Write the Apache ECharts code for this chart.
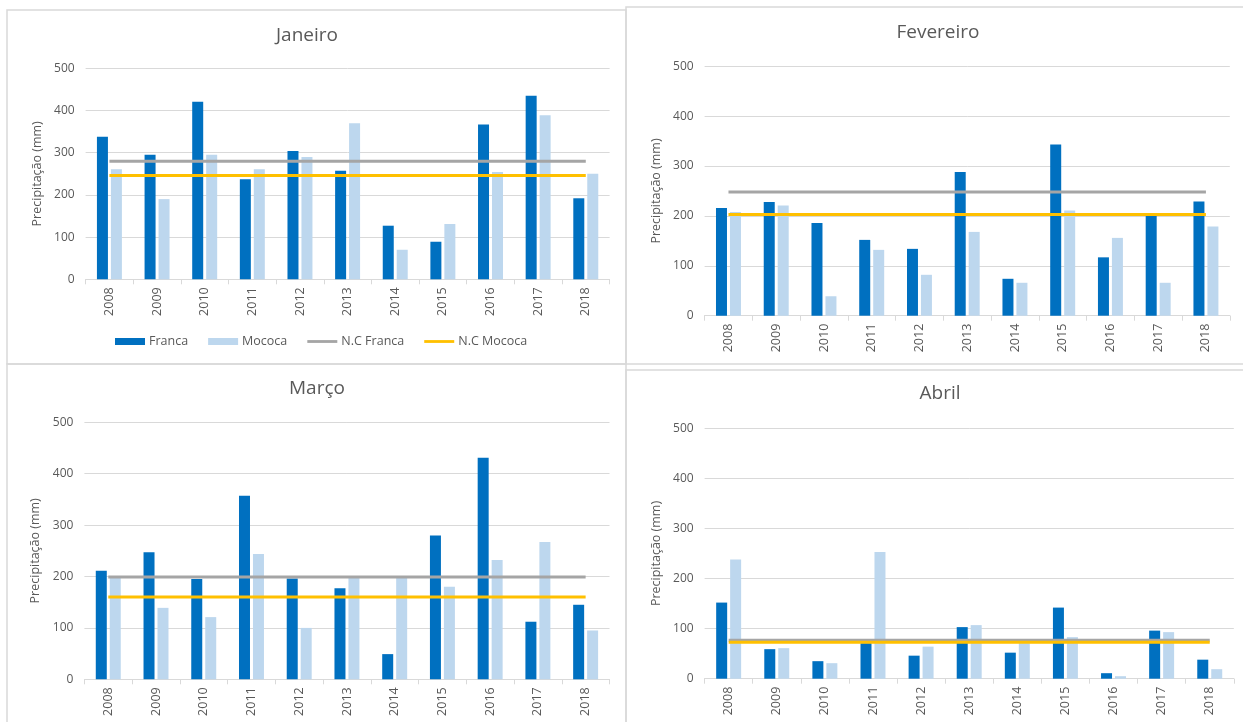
<!DOCTYPE html>
<html>
<head>
<meta charset="utf-8">
<title>Precipitação mensal — Franca e Mococa</title>
<script src="https://cdn.jsdelivr.net/npm/echarts@6/dist/echarts.min.js"></script>
<style>
  html, body { margin: 0; padding: 0; background: #ffffff; }
  #chart { width: 1243px; height: 722px; }
</style>
</head>
<body>
<div id="chart"></div>
<script>
// Years on the category axis
const years = ['2008', '2009', '2010', '2011', '2012', '2013', '2014', '2015', '2016', '2017', '2018'];
const yTicks = [0, 100, 200, 300, 400, 500];

// Monthly rainfall (mm) per year
const francaJan = [338, 295, 421, 237, 304, 257, 127, 89, 367, 435, 192];
const mococaJan = [261, 190, 295, 261, 290, 370, 70, 131, 254, 389, 250];
const francaFev = [216, 228, 186, 152, 134, 288, 74, 343, 117, 202, 229];
const mococaFev = [208, 221, 39, 132, 82, 168, 66, 211, 156, 66, 179];
const francaMar = [211, 247, 195, 357, 196, 177, 49, 280, 431, 112, 145];
const mococaMar = [198, 139, 121, 244, 100, 197, 197, 180, 232, 267, 95];
const francaAbr = [152, 59, 35, 71, 46, 103, 52, 142, 11, 96, 38];
const mococaAbr = [238, 61, 31, 253, 64, 107, 71, 83, 5, 93, 19];

// Climatological normals (mm) for each month
const normalFranca = { jan: 280, fev: 248, mar: 199, abr: 77 };
const normalMococa = { jan: 246, fev: 203, mar: 160, abr: 73 };

const FONT = 'Open Sans';
const TEXT = '#595959';
const GRID = '#d9d9d9';
const C_FRANCA = '#0070C0';
const C_MOCOCA = '#BDD7EE';
const C_NC_FRANCA = '#A5A5A5';
const C_NC_MOCOCA = '#FFC000';

// Panel definitions: title, data and plot box
const panels = [
  { title: 'Janeiro',   franca: francaJan, mococa: mococaJan, nf: normalFranca.jan, nm: normalMococa.jan,
    grid: { left: 85.6, top: 68.3, width: 524, height: 211 }, tx: 307, ty: 26 },
  { title: 'Fevereiro', franca: francaFev, mococa: mococaFev, nf: normalFranca.fev, nm: normalMococa.fev,
    grid: { left: 704.6, top: 66.3, width: 525.2, height: 249.4 }, tx: 938, ty: 23 },
  { title: 'Março',     franca: francaMar, mococa: mococaMar, nf: normalFranca.mar, nm: normalMococa.mar,
    grid: { left: 84.4, top: 422.3, width: 525.1, height: 257 }, tx: 317, ty: 379 },
  { title: 'Abril',     franca: francaAbr, mococa: mococaAbr, nf: normalFranca.abr, nm: normalMococa.abr,
    grid: { left: 704.6, top: 428.3, width: 529.2, height: 250.4 }, tx: 940, ty: 384 }
];

const grids = [], xAxes = [], yAxes = [], titles = [], series = [];

panels.forEach((p, i) => {
  grids.push(Object.assign({ containLabel: false }, p.grid));
  titles.push({
    text: p.title, left: p.tx, top: p.ty, textAlign: 'center', padding: 0,
    textStyle: { fontFamily: FONT, fontSize: 19, fontWeight: 'normal', color: TEXT }
  });
  xAxes.push({
    type: 'category', gridIndex: i, data: years,
    axisLine: { lineStyle: { color: GRID, width: 1 } },
    axisTick: { show: true, length: 5, lineStyle: { color: GRID } },
    axisLabel: { rotate: 90, margin: 8, color: TEXT, fontFamily: FONT, fontSize: 12.5 }
  });
  yAxes.push({
    type: 'value', gridIndex: i,
    min: yTicks[0], max: yTicks[yTicks.length - 1], interval: yTicks[1] - yTicks[0],
    name: 'Precipitação (mm)', nameLocation: 'middle', nameRotate: 90, nameGap: 42,
    nameTextStyle: { color: TEXT, fontFamily: FONT, fontSize: 12.5 },
    axisLine: { show: false }, axisTick: { show: false },
    axisLabel: { margin: 11, color: TEXT, fontFamily: FONT, fontSize: 12 },
    splitLine: { lineStyle: { color: GRID, width: 1 } }
  });
  series.push(
    { name: 'Franca', type: 'bar', xAxisIndex: i, yAxisIndex: i, data: p.franca,
      barWidth: 11, barGap: '27%', itemStyle: { color: C_FRANCA } },
    { name: 'Mococa', type: 'bar', xAxisIndex: i, yAxisIndex: i, data: p.mococa,
      barWidth: 11, barGap: '27%', itemStyle: { color: C_MOCOCA } },
    { name: 'N.C Franca', type: 'line', xAxisIndex: i, yAxisIndex: i,
      data: years.map(() => p.nf), symbol: 'none', z: 3,
      lineStyle: { color: C_NC_FRANCA, width: 3 }, itemStyle: { color: C_NC_FRANCA } },
    { name: 'N.C Mococa', type: 'line', xAxisIndex: i, yAxisIndex: i,
      data: years.map(() => p.nm), symbol: 'none', z: 4,
      lineStyle: { color: C_NC_MOCOCA, width: 3 }, itemStyle: { color: C_NC_MOCOCA } }
  );
});

// Light frames around each of the four charts
const frames = [
  { x: 7, y: 10, width: 619, height: 354 },
  { x: 626, y: 7, width: 640, height: 357 },
  { x: 7, y: 364, width: 619, height: 400 },
  { x: 626, y: 370, width: 640, height: 400 }
].map(shape => ({
  type: 'rect', shape, silent: true, z: -1,
  style: { fill: 'none', stroke: GRID, lineWidth: 1.5 }
}));

// Flat stroke used as the legend swatch of the normal lines
const LINE_ICON = 'path://M0,0 H32 V3 H0 Z';

const chart = echarts.init(document.getElementById('chart'), null, { renderer: 'canvas' });
chart.setOption({
  backgroundColor: '#ffffff',
  animation: false,
  title: titles,
  graphic: frames,
  legend: {
    left: 115, top: 335, padding: 0,
    itemWidth: 30, itemHeight: 7, itemGap: 20,
    data: [
      { name: 'Franca', icon: 'rect' },
      { name: 'Mococa', icon: 'rect' },
      { name: 'N.C Franca', icon: LINE_ICON },
      { name: 'N.C Mococa', icon: LINE_ICON }
    ],
    textStyle: { color: TEXT, fontFamily: FONT, fontSize: 12.5, padding: [0, 0, 0, -1] }
  },
  grid: grids,
  xAxis: xAxes,
  yAxis: yAxes,
  series
});
</script>
</body>
</html>
